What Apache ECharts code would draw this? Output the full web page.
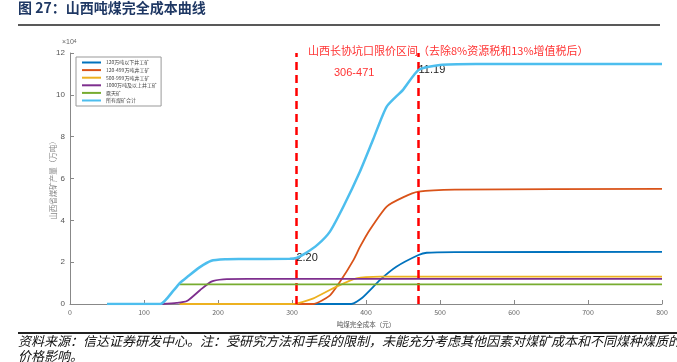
<!DOCTYPE html>
<html><head><meta charset="utf-8">
<script src="https://cdn.jsdelivr.net/npm/echarts@6/dist/echarts.min.js"></script>
<style>html,body{margin:0;padding:0;background:#fff}#c{width:677px;height:362px}</style>
</head><body><div id="c"></div>
<script>
// ---- data (y values in units of 10^4 万吨, x = 吨煤完全成本 元) ----
const seriesNames = ['120万吨以下井工矿','120-499万吨井工矿','500-999万吨井工矿','1000万吨及以上井工矿','露天矿','所有煤矿合计'];
const under120 = [[250,0],[380,0],[395,0.3],[419,1.15],[441,1.78],[471,2.34],[482,2.45],[520,2.48],[800,2.49]];
const mid120_499 = [[250,0],[328,0],[351,0.4],[365,1.07],[383,2.1],[392,2.74],[405,3.54],[428,4.66],[450,5.1],[471,5.37],[520,5.47],[800,5.5]];
const mid500_999 = [[148,0],[300,0],[306,0.02],[329,0.27],[360,0.83],[387,1.23],[419,1.31],[800,1.31]];
const over1000 = [[124,0],[144,0.05],[158,0.14],[176,0.67],[191,1.07],[207,1.18],[240,1.2],[800,1.2]];
const openPit = [[148,0.94],[800,0.94]];
const total = [[50,0],[122,0],[140,0.65],[149,1.02],[158,1.28],[175,1.75],[191,2.07],[210,2.14],[230,2.15],[297,2.16],[306,2.20],[318,2.42],[335,2.85],[351,3.45],[370,4.7],[392,6.35],[410,7.9],[428,9.44],[450,10.24],[471,11.19],[500,11.43],[550,11.47],[800,11.48]];
const limitLow = 306, limitHigh = 471;
const totalAtLow = 2.20, totalAtHigh = 11.19;
const xTicks = {min:0, max:800, interval:100};
const yTicks = {min:0, max:12, interval:2};

const colors = ['#0072BD','#D95319','#EDB120','#7E2F8E','#77AC30','#4DBEEE'];
const datas = [under120, mid120_499, mid500_999, over1000, openPit, total];

const chart = echarts.init(document.getElementById('c'));
const FONT = '"Noto Sans CJK SC", "Noto Sans", sans-serif';
const series = datas.map((d,i)=>({
  name: seriesNames[i], type:'line', data:d, symbol:'none', smooth:0.2,
  lineStyle:{color:colors[i], width: i===5?2.5:1.8}, itemStyle:{color:colors[i]}, z: 2+i
}));
series[5].markLine = {
  symbol:'none', silent:true,
  lineStyle:{color:'#FF0000', type:[8,5], width:2.5},
  label:{show:false},
  data:[{xAxis:limitLow},{xAxis:limitHigh}]
};
series[5].markPoint = {
  symbol:'circle', symbolSize:0,
  label:{show:true, position:'right', distance:0, color:'#222', fontSize:11, fontFamily:'Liberation Sans, Arial'},
  data:[
    {coord:[limitLow,totalAtLow], value:totalAtLow.toFixed(2)},
    {coord:[limitHigh,totalAtHigh], value:totalAtHigh.toFixed(2)}
  ]
};

chart.setOption({
  animation:false,
  textStyle:{fontFamily:FONT},
  grid:{left:70, right:15, top:53, bottom:58},
  legend:{
    orient:'vertical', left:76, top:57, icon:'rect', itemWidth:19, itemHeight:2, itemGap:2.6,
    borderColor:'#999', borderWidth:1, padding:[3,4,3,6],
    textStyle:{fontSize:5, color:'#444', fontFamily:FONT},
    data:seriesNames
  },
  xAxis:{
    type:'value', min:xTicks.min, max:xTicks.max, interval:xTicks.interval,
    name:'吨煤完全成本（元）', nameLocation:'middle', nameGap:14,
    nameTextStyle:{fontSize:6.5, color:'#555'},
    axisLine:{lineStyle:{color:'#888'}}, axisTick:{inside:true, length:4, lineStyle:{color:'#888'}},
    axisLabel:{fontSize:7, color:'#666', margin:5}, splitLine:{show:false}
  },
  yAxis:{
    type:'value', min:yTicks.min, max:yTicks.max, interval:yTicks.interval,
    name:'山西省煤矿产量（万吨）', nameLocation:'middle', nameGap:13, nameMoveOverlap:false,
    nameTextStyle:{fontSize:7.5, color:'#888'},
    axisLine:{show:true, lineStyle:{color:'#888'}}, axisTick:{show:true, inside:true, length:4, lineStyle:{color:'#888'}},
    axisLabel:{fontSize:8, color:'#555', margin:5, fontFamily:'Liberation Sans, Arial'}, splitLine:{show:false}
  },
  graphic:[
    {type:'text', left:18, top:1, style:{text:'图 27：山西吨煤完全成本曲线', font:'bold 14px "Noto Sans CJK SC"', fill:'#1F3864'}},
    {type:'line', shape:{x1:18,y1:25,x2:660,y2:25}, style:{stroke:'#222', lineWidth:1.5}},
    {type:'text', left:62, top:39, style:{rich:{a:{fontSize:7,fill:'#666'},b:{fontSize:5,fill:'#666',verticalAlign:'top'}}, text:'{a|×10}{b|4}'}},
    {type:'text', left:308, top:45, style:{text:'山西长协坑口限价区间（去除8%资源税和13%增值税后）', font:'11px "Noto Sans CJK SC"', fill:'#FF3333'}},
    {type:'text', left:334, top:67, style:{text:'306-471', font:'11px "Liberation Sans"', fill:'#FF3333'}},
    {type:'line', shape:{x1:18,y1:333,x2:677,y2:333}, style:{stroke:'#222', lineWidth:2}},
    {type:'text', left:18, top:335, style:{text:'资料来源：信达证券研发中心。注：受研究方法和手段的限制，未能充分考虑其他因素对煤矿成本和不同煤种煤质的', font:'italic 13px "Noto Sans CJK SC"', fill:'#111'}},
    {type:'text', left:18, top:350, style:{text:'价格影响。', font:'italic 13px "Noto Sans CJK SC"', fill:'#111'}}
  ],
  series:series
});
</script></body></html>
